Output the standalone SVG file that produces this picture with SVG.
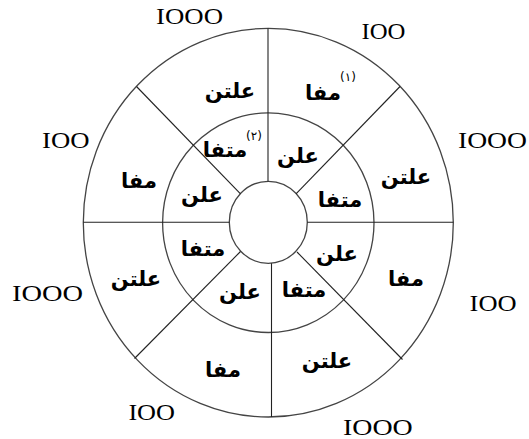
<svg xmlns="http://www.w3.org/2000/svg" width="529" height="439" viewBox="0 0 529 439">
<style>
.ring{fill:none;stroke:#444;stroke-width:1.3}
.sp{stroke:#222;stroke-width:1.1;fill:none}
.ar{font-family:"DejaVu Sans","Noto Sans",sans-serif;font-weight:bold;font-size:21px;fill:#000;text-anchor:middle}
.num{font-family:"Liberation Serif","Times New Roman",serif;font-size:24px;fill:#000}
.sup{font-family:"DejaVu Sans","Noto Sans",sans-serif;font-size:12px;fill:#000}
</style>
<rect width="529" height="439" fill="#fff"/>
<g id="rings">
<ellipse class="ring" cx="268.3" cy="222.7" rx="185" ry="194.3"/>
<ellipse class="ring" cx="268.3" cy="222.7" rx="105.7" ry="109.8"/>
<ellipse class="ring" cx="268.3" cy="222.3" rx="39" ry="41"/>
</g>
<g id="connectors">
<line class="sp" x1="268" y1="28.5" x2="268" y2="181.3"/>
<line class="sp" x1="271.5" y1="263.2" x2="271.5" y2="417"/>
<line class="sp" x1="83.3" y1="222.3" x2="229.3" y2="222.3"/>
<line class="sp" x1="307.3" y1="222.3" x2="453.3" y2="222.3"/>
<line class="sp" x1="136.5" y1="86.5" x2="240.5" y2="193.8"/>
<line class="sp" x1="400" y1="86.5" x2="296" y2="193.8"/>
<line class="sp" x1="134.5" y1="358.5" x2="240.5" y2="251.5"/>
<line class="sp" x1="402.5" y1="359.5" x2="297" y2="252"/>
</g>
<g id="outer-labels">
<text class="ar" x="230" y="98">علتن</text>
<text class="ar" x="323" y="100">مفا</text>
<text class="sup" x="340" y="81">(١)</text>
<text class="ar" x="406" y="184">علتن</text>
<text class="ar" x="139" y="188">مفا</text>
<text class="ar" x="136" y="286">علتن</text>
<text class="ar" x="406" y="286">مفا</text>
<text class="ar" x="223" y="377">مفا</text>
<text class="ar" x="327" y="368">علتن</text>
</g>
<g id="middle-labels">
<text class="ar" x="225" y="157">متفا</text>
<text class="sup" x="246" y="140">(٢)</text>
<text class="ar" x="298" y="163">علن</text>
<text class="ar" x="202" y="202">علن</text>
<text class="ar" x="340" y="207">متفا</text>
<text class="ar" x="203" y="256">متفا</text>
<text class="ar" x="337" y="261">علن</text>
<text class="ar" x="240" y="299">علن</text>
<text class="ar" x="304" y="297">متفا</text>
</g>
<g id="values">
<text class="num" x="156" y="24.3" textLength="67" lengthAdjust="spacingAndGlyphs">IOOO</text>
<text class="num" x="361.5" y="38.9" textLength="44" lengthAdjust="spacingAndGlyphs">IOO</text>
<text class="num" x="42" y="147.6" textLength="47.5" lengthAdjust="spacingAndGlyphs">IOO</text>
<text class="num" x="458" y="147.6" textLength="69" lengthAdjust="spacingAndGlyphs">IOOO</text>
<text class="num" x="12" y="301" textLength="71" lengthAdjust="spacingAndGlyphs">IOOO</text>
<text class="num" x="469.6" y="311" textLength="47" lengthAdjust="spacingAndGlyphs">IOO</text>
<text class="num" x="128.4" y="420" textLength="46.6" lengthAdjust="spacingAndGlyphs">IOO</text>
<text class="num" x="343" y="434.5" textLength="69.8" lengthAdjust="spacingAndGlyphs">IOOO</text>
</g>
</svg>
